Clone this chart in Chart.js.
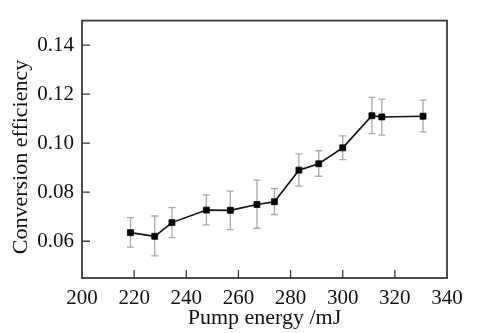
<!DOCTYPE html>
<html>
<head>
<meta charset="utf-8">
<script src="https://cdn.jsdelivr.net/npm/chart.js@4/dist/chart.umd.min.js"></script>
<style>
html,body{margin:0;padding:0;background:#fff;}
#wrap{width:482px;height:333px;position:relative;}
</style>
</head>
<body>
<div id="wrap"><canvas id="c" width="482" height="333"></canvas></div>
<script>
const pumpEnergy = [218.6, 227.9, 234.5, 247.7, 256.9, 267.1, 273.8, 283.2, 290.8, 300.0, 311.2, 315.0, 330.8];
const efficiency = [0.0635, 0.0620, 0.0676, 0.0727, 0.0726, 0.0750, 0.0761, 0.0890, 0.0916, 0.0981, 0.1112, 0.1107, 0.1110];
const errorUp   = [0.0061, 0.0083, 0.0061, 0.0062, 0.0078, 0.0099, 0.0054, 0.0066, 0.0053, 0.0049, 0.0075, 0.0073, 0.0066];
const errorDown = [0.0059, 0.0080, 0.0061, 0.0060, 0.0079, 0.0097, 0.0052, 0.0065, 0.0051, 0.0048, 0.0073, 0.0074, 0.0064];
const xTicks = [200, 220, 240, 260, 280, 300, 320, 340];
const yTicks = [0.06, 0.08, 0.10, 0.12, 0.14];
const xTitle = 'Pump energy /mJ';
const yTitle = 'Conversion efficiency';

const SERIF = '"Liberation Serif", "Times New Roman", serif';

const errorBarPlugin = {
  id: 'errorBars',
  beforeDatasetsDraw(chart) {
    const ctx = chart.ctx, xs = chart.scales.x, ys = chart.scales.y;
    ctx.save();
    ctx.strokeStyle = '#a8a8a8';
    ctx.lineWidth = 1.3;
    const cap = 3.5;
    for (let i = 0; i < pumpEnergy.length; i++) {
      const x = xs.getPixelForValue(pumpEnergy[i]);
      const yt = ys.getPixelForValue(efficiency[i] + errorUp[i]);
      const yb = ys.getPixelForValue(efficiency[i] - errorDown[i]);
      ctx.beginPath();
      ctx.moveTo(x, yt); ctx.lineTo(x, yb);
      ctx.moveTo(x - cap, yt); ctx.lineTo(x + cap, yt);
      ctx.moveTo(x - cap, yb); ctx.lineTo(x + cap, yb);
      ctx.stroke();
    }
    ctx.restore();
  }
};

const framePlugin = {
  id: 'frame',
  afterDraw(chart) {
    const ctx = chart.ctx, a = chart.chartArea, xs = chart.scales.x, ys = chart.scales.y;
    ctx.save();
    ctx.strokeStyle = '#3a3a3a';
    ctx.lineWidth = 1.8;
    ctx.strokeRect(a.left, a.top, a.right - a.left, a.bottom - a.top);
    ctx.lineWidth = 1.3;
    ctx.beginPath();
    xTicks.forEach(v => {
      const x = xs.getPixelForValue(v);
      if (v > xs.min && v < xs.max) { ctx.moveTo(x, a.bottom); ctx.lineTo(x, a.bottom - 8); }
    });
    yTicks.forEach(v => {
      const y = ys.getPixelForValue(v);
      ctx.moveTo(a.left, y); ctx.lineTo(a.left + 8, y);
    });
    ctx.stroke();
    // y axis title
    ctx.fillStyle = '#111';
    ctx.font = '22px ' + SERIF;
    ctx.textAlign = 'center';
    ctx.textBaseline = 'middle';
    ctx.translate(21, 157);
    ctx.rotate(-Math.PI / 2);
    ctx.fillText(yTitle, 0, 0);
    ctx.restore();
  }
};

new Chart(document.getElementById('c'), {
  type: 'line',
  data: {
    datasets: [{
      data: pumpEnergy.map((x, i) => ({ x: x, y: efficiency[i] })),
      borderColor: '#111',
      borderWidth: 1.6,
      backgroundColor: '#000',
      pointStyle: 'rect',
      pointRadius: 4.2,
      pointBorderWidth: 0.8,
      pointBorderColor: '#000',
      pointBackgroundColor: '#000',
      tension: 0,
      fill: false
    }]
  },
  options: {
    responsive: false,
    animation: false,
    devicePixelRatio: 1,
    layout: { padding: { top: 6, right: 35, left: 0, bottom: 0 } },
    plugins: { legend: { display: false }, tooltip: { enabled: false } },
    scales: {
      x: {
        type: 'linear',
        min: 200, max: 340,
        afterFit(s) { s.height = 55; },
        afterBuildTicks(s) { s.ticks = xTicks.map(v => ({ value: v })); },
        grid: { display: false, drawTicks: false },
        border: { display: false },
        ticks: { color: '#111', font: { family: SERIF, size: 21 }, padding: 8, maxRotation: 0, autoSkip: false,
          callback: v => String(v) },
        title: { display: true, text: xTitle, color: '#111', font: { family: SERIF, size: 22 }, padding: { top: 0, bottom: 2 } }
      },
      y: {
        type: 'linear',
        min: 0.045, max: 0.15,
        afterFit(s) { s.width = 82; },
        afterBuildTicks(s) { s.ticks = yTicks.map(v => ({ value: v })); },
        grid: { display: false, drawTicks: false },
        border: { display: false },
        ticks: { color: '#111', font: { family: SERIF, size: 21 }, padding: 8, autoSkip: false,
          callback: v => v.toFixed(2) },
        title: { display: false }
      }
    }
  },
  plugins: [errorBarPlugin, framePlugin]
});
</script>
</body>
</html>
